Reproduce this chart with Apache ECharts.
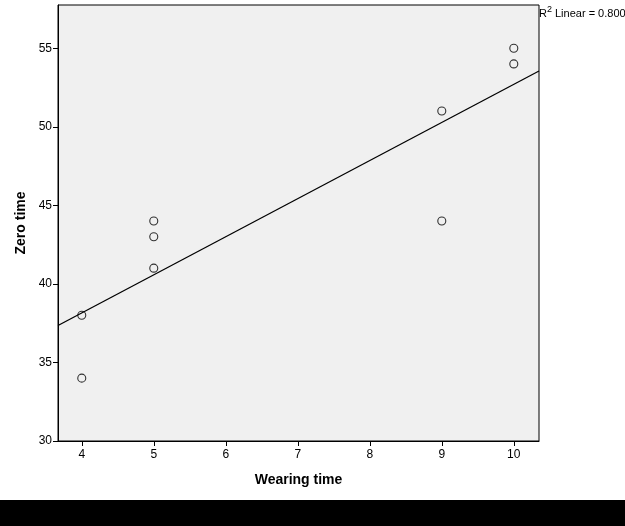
<!DOCTYPE html>
<html>
<head>
<meta charset="utf-8">
<script src="https://cdn.jsdelivr.net/npm/echarts@6/dist/echarts.min.js"></script>
<style>
  html, body { margin: 0; padding: 0; background: #fff; }
  #chart { width: 625px; height: 526px; }
</style>
</head>
<body>
<div id="chart"></div>
<script>
// 数据：佩戴时间 vs 归零时间
const wearingTime = [4, 4, 5, 5, 5, 9, 9, 10, 10];
const zeroTime = [38, 34, 44, 43, 41, 51, 44, 55, 54];
// 拟合线两端
const fitLine = [[3.67, 37.35], [10.35, 53.55]];
const xTicks = [4, 5, 6, 7, 8, 9, 10];
const yTicks = [30, 35, 40, 45, 50, 55];

const chart = echarts.init(document.getElementById('chart'));
const font = 'Arial, "Liberation Sans", sans-serif';

chart.setOption({
  animation: false,
  grid: {
    left: 58, top: 5, right: 86, bottom: 85,
    show: true,
    backgroundColor: '#F0F0F0',
    borderColor: '#000',
    borderWidth: 1
  },
  xAxis: {
    type: 'value',
    min: 3.67,
    max: 10.35,
    name: 'Wearing time',
    nameLocation: 'middle',
    nameGap: 32,
    nameTextStyle: { fontFamily: font, fontSize: 14, fontWeight: 'bold', color: '#000' },
    axisLine: { onZero: false, lineStyle: { color: '#000' } },
    axisTick: { show: true, length: 5, customValues: xTicks, lineStyle: { color: '#000' } },
    axisLabel: { customValues: xTicks, margin: 8, fontFamily: font, fontSize: 12, color: '#000' },
    splitLine: { show: false }
  },
  yAxis: {
    type: 'value',
    min: 30,
    max: 57.75,
    name: 'Zero time',
    nameLocation: 'middle',
    nameGap: 26,
    nameTextStyle: { fontFamily: font, fontSize: 14, fontWeight: 'bold', color: '#000' },
    axisLine: { show: true, onZero: false, lineStyle: { color: '#000' } },
    axisTick: { show: true, length: 5, customValues: yTicks, lineStyle: { color: '#000' } },
    axisLabel: { customValues: yTicks, margin: 6, fontFamily: font, fontSize: 12, color: '#000' },
    splitLine: { show: false }
  },
  graphic: [
    {
      type: 'text',
      left: 539,
      top: 5,
      style: {
        text: '{r|R}{s|2}{r| Linear = 0.800}',
        rich: {
          r: { fontFamily: font, fontSize: 11, fill: '#000', verticalAlign: 'bottom' },
          s: { fontFamily: font, fontSize: 9, fill: '#000', verticalAlign: 'top', padding: [0, 0, 5, 0] }
        }
      }
    },
    {
      type: 'rect',
      left: 0,
      top: 500,
      shape: { width: 625, height: 26 },
      style: { fill: '#000' }
    }
  ],
  series: [
    {
      type: 'line',
      data: fitLine,
      symbol: 'none',
      lineStyle: { color: '#000', width: 1.3 },
      z: 1
    },
    {
      type: 'scatter',
      data: wearingTime.map((x, i) => [x, zeroTime[i]]),
      symbol: 'circle',
      symbolSize: 8,
      itemStyle: { color: 'rgba(0,0,0,0)', borderColor: '#000', borderWidth: 1.1 },
      z: 2
    }
  ]
});
</script>
</body>
</html>
